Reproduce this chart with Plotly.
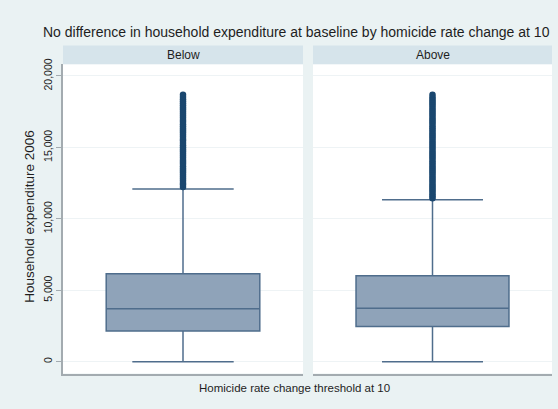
import plotly.graph_objects as go

# ---- data ----
panels = ["Below", "Above"]
q1 = [2140, 2460]
median = [3700, 3745]
q3 = [6160, 6020]
lower_whisker = [0, 0]
upper_whisker = [12090, 11330]
outliers_below = [12230, 12380, 12510, 12660, 12800, 12950, 13080, 13240, 13390, 13520,
                  13680, 13830, 13970, 14120, 14280, 14410, 14560, 14720, 14860, 15010,
                  15150, 15300, 15460, 15590, 15740, 15890, 16050, 16180, 16330, 16480,
                  16620, 16780, 16920, 17070, 17210, 17360, 17500, 17660, 17800, 17950,
                  18090, 18240, 18380, 18530, 18690]
outliers_above = [11440, 11580, 11720, 11870, 12010, 12160, 12300, 12440, 12590, 12730,
                  12880, 13020, 13170, 13310, 13450, 13600, 13740, 13890, 14030, 14180,
                  14320, 14460, 14610, 14750, 14900, 15040, 15190, 15330, 15470, 15620,
                  15760, 15910, 16050, 16200, 16340, 16480, 16630, 16770, 16920, 17060,
                  17210, 17350, 17490, 17640, 17780, 17930, 18070, 18220, 18360, 18510,
                  18690]
outliers = [outliers_below, outliers_above]
ytick_vals = [0, 5000, 10000, 15000, 20000]
ytick_text = ["0", "5,000", "10,000", "15,000", "20,000"]

title = "No difference in household expenditure at baseline by homicide rate change at 10"
ytitle = "Household expenditure 2006"
xtitle = "Homicide rate change threshold at 10"

# ---- styling ----
W, H = 558, 409
FONT = "Liberation Sans, Arial, Helvetica, sans-serif"
BG = "#eaf2f3"
STRIP = "#d6e4eb"
BOX_FILL = "#8fa3b9"
BOX_LINE = "#4f6d8c"
DOT = "#1a476f"
AXIS = "#a3abb0"
TXT = "#1e1e1e"

def px(x):
    return x / W

def py(y):
    return 1 - y / H

x_domains = [[px(63), px(303)], [px(313), px(552)]]
y_domain = [py(373), py(59)]

fig = go.Figure()
xaxes = ["x", "x2"]
yaxes = ["y", "y2"]
for i in range(2):
    fig.add_trace(go.Box(
        x=[0], q1=[q1[i]], median=[median[i]], q3=[q3[i]],
        lowerfence=[lower_whisker[i]], upperfence=[upper_whisker[i]],
        width=0.64, whiskerwidth=0.66,
        fillcolor=BOX_FILL, line=dict(color=BOX_LINE, width=1.5),
        boxpoints=False, showlegend=False, hoverinfo="skip",
        xaxis=xaxes[i], yaxis=yaxes[i],
    ))
    fig.add_trace(go.Scatter(
        x=[0] * len(outliers[i]), y=outliers[i], mode="markers",
        marker=dict(color=DOT, size=6.5, line=dict(width=0)),
        showlegend=False, hoverinfo="skip",
        xaxis=xaxes[i], yaxis=yaxes[i],
    ))

common_x = dict(range=[-0.5, 0.5], showticklabels=False, ticks="", showgrid=False,
                zeroline=False, showline=True, linecolor=AXIS, linewidth=1.5,
                mirror=False, fixedrange=True)
fig.update_layout(
    width=W, height=H,
    margin=dict(l=0, r=0, t=0, b=0),
    paper_bgcolor=BG, plot_bgcolor="white",
    font=dict(family=FONT, color=TXT),
    xaxis=dict(domain=x_domains[0], anchor="y", **common_x),
    xaxis2=dict(domain=x_domains[1], anchor="y2", **common_x),
    yaxis=dict(domain=y_domain, range=[-830, 20830], tickvals=ytick_vals,
               ticktext=ytick_text, tickangle=-90, ticks="outside", ticklen=5,
               tickcolor=AXIS, tickfont=dict(size=10.5, color=TXT),
               showgrid=True, gridcolor="#eef3f5", gridwidth=1, zeroline=False,
               showline=True, linecolor=AXIS, linewidth=1.5, anchor="x"),
    yaxis2=dict(domain=y_domain, range=[-830, 20830], matches="y", anchor="x2",
                showticklabels=False, ticks="", tickvals=ytick_vals,
                showgrid=True, gridcolor="#eef3f5", gridwidth=1, zeroline=False,
                showline=False),
    showlegend=False,
)

shapes = []
annotations = []
for i in range(2):
    shapes.append(dict(type="rect", xref="paper", yref="paper",
                       x0=x_domains[i][0], x1=x_domains[i][1], y0=py(59), y1=py(40),
                       fillcolor=STRIP, line=dict(width=0), layer="below"))
    annotations.append(dict(text=panels[i], xref="paper", yref="paper",
                            x=(x_domains[i][0] + x_domains[i][1]) / 2, y=py(49.5),
                            xanchor="center", yanchor="middle", showarrow=False,
                            font=dict(size=12, color=TXT)))
annotations.append(dict(text=title, xref="paper", yref="paper", x=px(296), y=py(26),
                        xanchor="center", yanchor="middle", showarrow=False,
                        font=dict(size=14, color=TXT)))
annotations.append(dict(text=ytitle, xref="paper", yref="paper", x=px(30), y=py(214),
                        xanchor="center", yanchor="middle", textangle=-90,
                        showarrow=False, font=dict(size=13.5, color=TXT)))
annotations.append(dict(text=xtitle, xref="paper", yref="paper", x=px(294), y=py(388),
                        xanchor="center", yanchor="middle", showarrow=False,
                        font=dict(size=11.5, color=TXT)))
fig.update_layout(shapes=shapes, annotations=annotations)

fig.write_html("out.html")
